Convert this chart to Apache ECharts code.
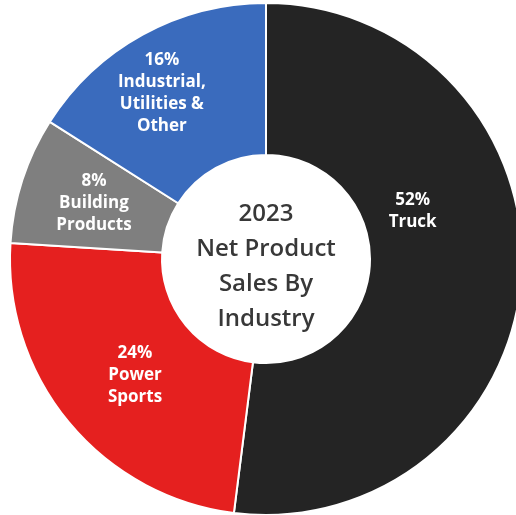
<!DOCTYPE html>
<html>
<head>
<meta charset="utf-8">
<script src="https://cdn.jsdelivr.net/npm/echarts@6/dist/echarts.min.js"></script>
<style>
  html, body { margin: 0; padding: 0; background: #ffffff; }
  #chart { width: 516px; height: 515px; }
</style>
</head>
<body>
<div id="chart"></div>
<script>
// Net product sales share by industry, 2023 (percent)
const industries = ['Truck', 'Power\nSports', 'Building\nProducts', 'Industrial,\nUtilities &\nOther'];
const shares = [52, 24, 8, 16];
const sliceColors = ['#242424', '#e5201f', '#7f7f7f', '#3a6bbd'];
const centerTitle = ['2023', 'Net Product', 'Sales By', 'Industry'];

// Nudges for the in-slice labels, in pixels
const labelNudge = [[-36, -59], [10, 0], [2, 1], [-16, -5]];

const chart = echarts.init(document.getElementById('chart'), null, { renderer: 'canvas' });

chart.setOption({
  backgroundColor: '#ffffff',
  animation: false,
  graphic: [{
    type: 'text',
    x: 266,
    y: 267,
    style: {
      text: centerTitle.join('\n'),
      x: 0,
      y: 0,
      align: 'center',
      verticalAlign: 'middle',
      font: '600 24px "Open Sans", sans-serif',
      lineHeight: 35,
      fill: '#383838'
    },
    z: 10
  }],
  series: [{
    type: 'pie',
    center: [266, 259],
    radius: [104, 256],
    startAngle: 90,
    clockwise: true,
    avoidLabelOverlap: false,
    data: industries.map((name, i) => ({
      name: name,
      value: shares[i],
      itemStyle: { color: sliceColors[i] }
    })),
    itemStyle: { borderColor: '#ffffff', borderWidth: 2 },
    label: {
      show: true,
      position: 'inside',
      formatter: p => p.value + '%\n' + p.name,
      color: '#ffffff',
      fontFamily: '"Open Sans", sans-serif',
      fontWeight: 'bold',
      fontSize: 17,
      lineHeight: 22,
      align: 'center'
    },
    labelLayout: params => ({ dx: labelNudge[params.dataIndex][0], dy: labelNudge[params.dataIndex][1] }),
    labelLine: { show: false },
    emphasis: { disabled: true }
  }]
});
</script>
</body>
</html>
